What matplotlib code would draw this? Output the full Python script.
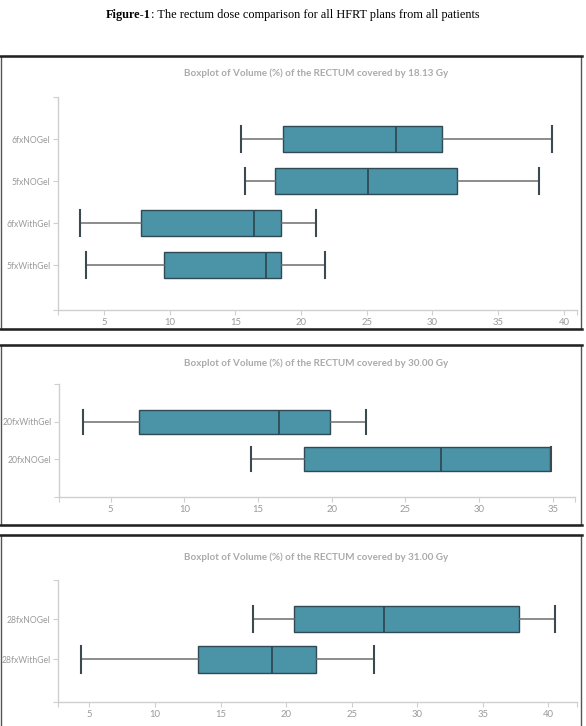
import matplotlib
matplotlib.use("Agg")
import matplotlib.pyplot as plt
from matplotlib.lines import Line2D
from matplotlib.patches import Rectangle

W, H = 586, 726

# panel 1: 18.13 Gy (categories listed bottom to top)
p1_cats = ["5fxWithGel", "6fxWithGel", "5fxNOGel", "6fxNOGel"]
p1_low = [3.6, 3.2, 15.7, 15.4]
p1_q1 = [9.6, 7.85, 18.0, 18.6]
p1_med = [17.3, 16.45, 25.1, 27.2]
p1_q3 = [18.45, 18.5, 31.9, 30.7]
p1_high = [21.8, 21.1, 38.1, 39.1]

# panel 2: 30.00 Gy
p2_cats = ["20fxNOGel", "20fxWithGel"]
p2_low = [14.5, 3.1]
p2_q1 = [18.1, 6.9]
p2_med = [27.4, 16.4]
p2_q3 = [34.8, 19.9]
p2_high = [34.85, 22.3]

# panel 3: 31.00 Gy
p3_cats = ["28fxWithGel", "28fxNOGel"]
p3_low = [4.35, 17.45]
p3_q1 = [13.3, 20.6]
p3_med = [18.9, 27.5]
p3_q3 = [22.3, 37.75]
p3_high = [26.7, 40.5]

x_ticks_40 = [5, 10, 15, 20, 25, 30, 35, 40]
x_ticks_35 = [5, 10, 15, 20, 25, 30, 35]

BOX = "#4b93a6"
EDGE = "#2f4a55"
AXIS = "#cfcfcf"
LABEL = "#9a9a9a"

plt.rcParams["font.family"] = ["Lato", "DejaVu Sans"]

fig = plt.figure(figsize=(W / 100, H / 100), dpi=100)


def px_rect(x0, y0, x1, y1):
    # pixel box (top-left origin) -> figure fraction rect
    return [x0 / W, 1 - y1 / H, (x1 - x0) / W, (y1 - y0) / H]


def frame(y0, y1):
    fig.add_artist(Rectangle((0.8 / W, 1 - y1 / H), 580 / W, (y1 - y0) / H,
                             transform=fig.transFigure, fill=False,
                             edgecolor="#555555", linewidth=1.0))
    for y in (y0, y1):
        fig.add_artist(Line2D([0, 582 / W], [1 - y / H, 1 - y / H],
                              transform=fig.transFigure, color="#222222", linewidth=1.8))


def panel(rect, title, title_y, cats, low, q1, med, q3, high, xlim, ylim, xticks, bw):
    ax = fig.add_axes(px_rect(*rect))
    pos = list(range(1, len(cats) + 1))
    stats = [dict(whislo=a, q1=b, med=c, q3=d, whishi=e, fliers=[])
             for a, b, c, d, e in zip(low, q1, med, q3, high)]
    kw = dict(positions=pos, widths=bw, capwidths=bw, patch_artist=True, showfliers=False,
              boxprops=dict(facecolor=BOX, edgecolor=EDGE, linewidth=1.0),
              medianprops=dict(color=EDGE, linewidth=1.3),
              whiskerprops=dict(color="#6e6e6e", linewidth=1.1),
              capprops=dict(color="#3c4a50", linewidth=1.5))
    try:
        ax.bxp(stats, orientation="horizontal", **kw)
    except TypeError:
        ax.bxp(stats, vert=False, **kw)
    ax.set_xlim(*xlim)
    ax.set_ylim(*ylim)
    ax.set_xticks([xlim[0]] + xticks + [xlim[1]])
    ax.set_xticklabels([""] + [str(t) for t in xticks] + [""])
    ax.set_yticks([ylim[0]] + pos + [ylim[1]])
    ax.set_yticklabels([""] + cats + [""])
    for s in ("top", "right"):
        ax.spines[s].set_visible(False)
    for s in ("left", "bottom"):
        ax.spines[s].set_color(AXIS)
        ax.spines[s].set_linewidth(1.0)
    ax.tick_params(length=3.5, width=0.8, color=AXIS, labelcolor=LABEL, pad=2)
    ax.tick_params(axis="x", labelsize=6.8)
    ax.tick_params(axis="y", labelsize=6.2)
    ax.patch.set_alpha(0)
    fig.text(316 / W, 1 - title_y / H, title, ha="center", va="center",
             fontsize=7.1, fontweight="bold", color="#aaaaaa")
    return ax


# figure title
r = fig.canvas.get_renderer()
t1 = fig.text(0, 1 - 15 / H, "Figure-1", fontsize=8.8, fontweight="bold",
              family="Liberation Serif", va="center")
t2 = fig.text(0, 1 - 15 / H, ": The rectum dose comparison for all HFRT plans from all patients",
              fontsize=8.8, family="Liberation Serif", va="center")
w1 = t1.get_window_extent(r).width
w2 = t2.get_window_extent(r).width
x0 = 293 - (w1 + w2) / 2
t1.set_x(x0 / W)
t2.set_x((x0 + w1) / W)

frame(56, 329)
frame(345, 525)
frame(535, 727)

panel((58, 97, 577, 310), "Boxplot of Volume (%) of the RECTUM covered by 18.13 Gy", 73,
      p1_cats, p1_low, p1_q1, p1_med, p1_q3, p1_high,
      (1.5, 41.0), (-0.07, 5.0), x_ticks_40, 0.63)
panel((59, 384, 575, 497), "Boxplot of Volume (%) of the RECTUM covered by 30.00 Gy", 363,
      p2_cats, p2_low, p2_q1, p2_med, p2_q3, p2_high,
      (1.5, 36.5), (0.0, 3.0), x_ticks_35, 0.63)
panel((58, 580, 577, 702), "Boxplot of Volume (%) of the RECTUM covered by 31.00 Gy", 557,
      p3_cats, p3_low, p3_q1, p3_med, p3_q3, p3_high,
      (2.6, 42.2), (-0.06, 2.98), x_ticks_40, 0.65)

fig.savefig("out.png", dpi=100)
